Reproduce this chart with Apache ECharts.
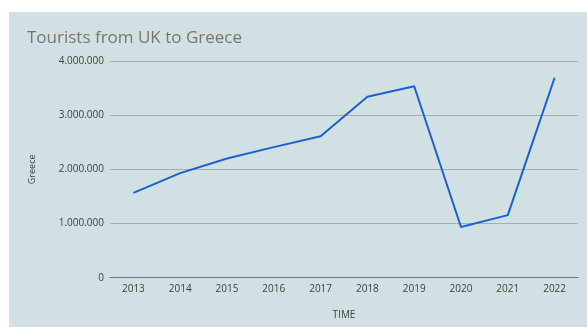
<!DOCTYPE html>
<html>
<head>
<meta charset="utf-8">
<script src="https://cdn.jsdelivr.net/npm/echarts@6/dist/echarts.min.js"></script>
<style>
  html, body { margin: 0; padding: 0; background: #ffffff; }
  #chart { position: absolute; left: 0; top: 0; width: 587px; height: 327px; }
</style>
</head>
<body>
<div id="chart"></div>
<script>
const years = ['2013', '2014', '2015', '2016', '2017', '2018', '2019', '2020', '2021', '2022'];
const tourists = [1565000, 1930000, 2200000, 2410000, 2610000, 3340000, 3535000, 935000, 1155000, 3690000];
const yTicks = [0, 1000000, 2000000, 3000000, 4000000];

// thousands separated with dots
function dotted(v) {
  return String(v).replace(/\B(?=(\d{3})+(?!\d))/g, '.');
}

const chart = echarts.init(document.getElementById('chart'), null, { renderer: 'canvas' });
chart.setOption({
  backgroundColor: '#ffffff',
  animation: false,
  graphic: [{
    type: 'rect',
    z: -10,
    silent: true,
    shape: { x: 9, y: 12, width: 578, height: 315 },
    style: { fill: '#d1e0e3' }
  }],
  title: {
    text: 'Tourists from UK to Greece',
    left: 27, top: 30,
    padding: 0,
    textStyle: { fontFamily: 'Open Sans', fontSize: 17, fontWeight: 'normal', color: '#767676' }
  },
  grid: { left: 110, right: 9, top: 61, bottom: 49.3 },
  xAxis: {
    type: 'category',
    data: years,
    boundaryGap: true,
    name: 'TIME',
    nameLocation: 'middle',
    nameGap: 32,
    nameTextStyle: { fontFamily: 'Open Sans', fontSize: 10, color: '#404040' },
    axisLine: { lineStyle: { color: '#6f7a78', width: 1.2 } },
    axisTick: { show: false },
    axisLabel: { margin: 6, fontFamily: 'Open Sans', fontSize: 10, color: '#404040' }
  },
  yAxis: {
    type: 'value',
    min: yTicks[0],
    max: yTicks[yTicks.length - 1],
    interval: 1000000,
    name: 'Greece',
    nameLocation: 'middle',
    nameRotate: 90,
    nameGap: 73,
    nameTextStyle: { fontFamily: 'Open Sans', fontSize: 9, color: '#404040' },
    axisLine: { show: false },
    axisTick: { show: false },
    splitLine: { lineStyle: { color: '#a5b0ad', width: 1 } },
    axisLabel: { margin: 6, fontFamily: 'Open Sans', fontSize: 10, color: '#404040', formatter: dotted }
  },
  series: [{
    type: 'line',
    data: tourists,
    symbol: 'none',
    lineStyle: { color: '#1b5fd4', width: 2 }
  }]
});
</script>
</body>
</html>
